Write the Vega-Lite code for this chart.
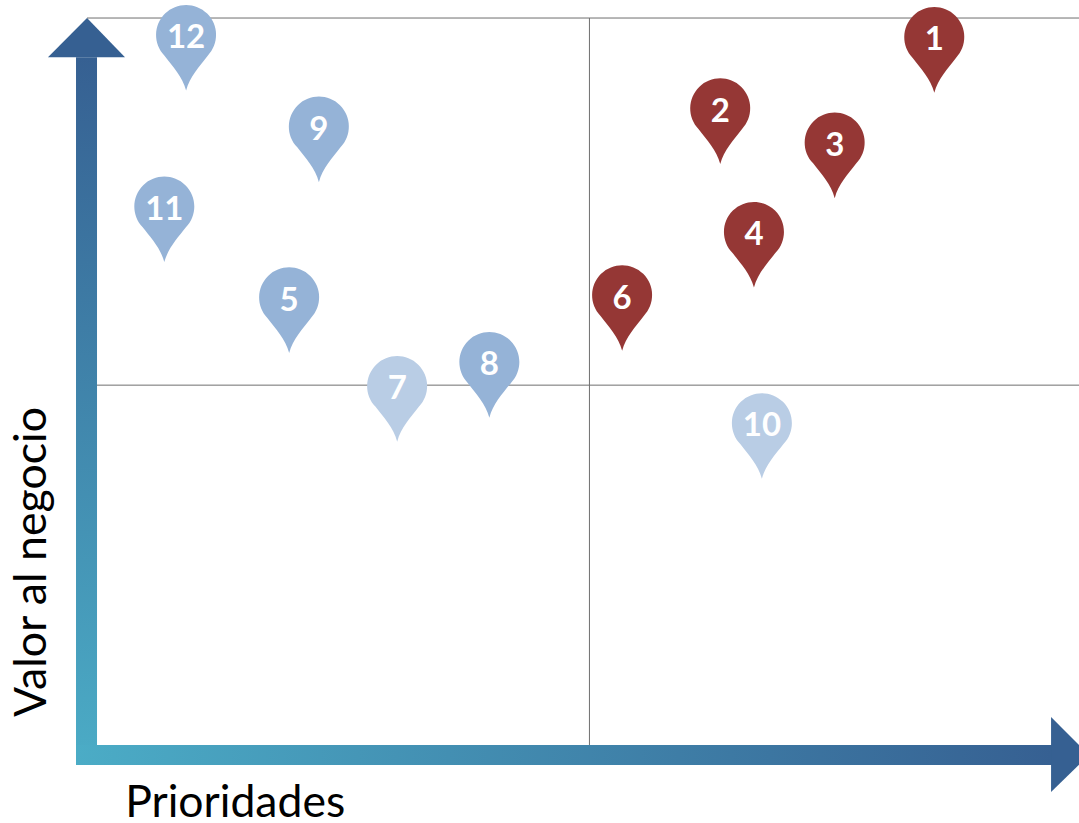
{
"$schema":"https://vega.github.io/schema/vega-lite/v6.json",
"width":1079,"height":823,"padding":0,"autosize":{"type":"none"},
"background":"white",
"view":{"stroke":null},
"datasets":{
"pins":[
{"id":"1","prioridad":85.4,"valor":97.4,"grupo":"A"},
{"id":"2","prioridad":63.8,"valor":87.6,"grupo":"A"},
{"id":"3","prioridad":75.35,"valor":82.9,"grupo":"A"},
{"id":"4","prioridad":67.2,"valor":70.6,"grupo":"A"},
{"id":"5","prioridad":20.3,"valor":61.6,"grupo":"B"},
{"id":"6","prioridad":53.9,"valor":61.9,"grupo":"A"},
{"id":"7","prioridad":31.2,"valor":49.4,"grupo":"C"},
{"id":"8","prioridad":40.5,"valor":52.7,"grupo":"B"},
{"id":"9","prioridad":23.3,"valor":85.1,"grupo":"B"},
{"id":"10","prioridad":68,"valor":44.3,"grupo":"C"},
{"id":"11","prioridad":7.7,"valor":74.1,"grupo":"B"},
{"id":"12","prioridad":9.9,"valor":97.7,"grupo":"B"}
]},
"encoding":{
"x":{"field":"x","type":"quantitative","axis":null,"scale":{"domain":[-8.88,100],"nice":false,"zero":false}},
"y":{"field":"y","type":"quantitative","axis":null,"scale":{"domain":[-10.73,102.48],"nice":false,"zero":false}}
},
"layer":[
{"data":{"values":[{"x":-0.1,"x2":100,"y":100},{"x":0.9,"x2":100,"y":49.5}]},
 "mark":{"type":"rule","color":"#6f6f6f","strokeWidth":1},
 "encoding":{"x2":{"field":"x2"}}},
{"data":{"values":[{"x":50.6,"y":100,"y2":0}]},
 "mark":{"type":"rule","color":"#6f6f6f","strokeWidth":1},
 "encoding":{"y2":{"field":"y2"}}},
{"data":{"values":[{"x":-1.21,"x2":0.91,"y":94.6,"y2":-2.75}]},
 "mark":{"type":"rect","fill":{"gradient":"linear","x1":0,"y1":1,"x2":0,"y2":0,"stops":[{"offset":0,"color":"#4bacc6"},{"offset":1,"color":"#366092"}]}},
 "encoding":{"x2":{"field":"x2"},"y2":{"field":"y2"}}},
{"data":{"values":[{"x":-1.21,"x2":97.28,"y":0,"y2":-2.75}]},
 "mark":{"type":"rect","fill":{"gradient":"linear","x1":0,"y1":0,"x2":1,"y2":0,"stops":[{"offset":0,"color":"#4bacc6"},{"offset":1,"color":"#366092"}]}},
 "encoding":{"x2":{"field":"x2"},"y2":{"field":"y2"}}},
{"data":{"values":[{"x":-4.04,"y":94.6,"y2":94.6},{"x":-0.1,"y":100,"y2":94.6},{"x":3.73,"y":94.6,"y2":94.6}]},
 "mark":{"type":"area","color":"#366092","orient":"vertical"},
 "encoding":{"y2":{"field":"y2"}}},
{"data":{"values":[{"y":3.85,"x":97.18,"x2":97.18},{"y":-1.38,"x":97.18,"x2":101},{"y":-6.46,"x":97.18,"x2":97.18}]},
 "mark":{"type":"area","color":"#366092","orient":"horizontal","clip":true},
 "encoding":{"x2":{"field":"x2"}}},
{"data":{"values":[{"x":3.75,"y":-9.9,"t":"Prioridades"}]},
 "mark":{"type":"text","font":"Lato","fontSize":44.5,"align":"left","baseline":"alphabetic","color":"black"},
 "encoding":{"text":{"field":"t"}}},
{"data":{"values":[{"x":-4.24,"y":3.85,"t":"Valor al negocio"}]},
 "mark":{"type":"text","font":"Lato","fontSize":44.7,"align":"left","baseline":"alphabetic","angle":270,"color":"black"},
 "encoding":{"text":{"field":"t"}}},
{"data":{"name":"pins"},
 "mark":{"type":"point","filled":true,"opacity":1,"size":3600,"strokeWidth":0,"shape":"M0,1.86 C-0.12,1.4 -0.45,1.05 -0.72,0.7 A1,1 0 1 1 0.72,0.7 C0.45,1.05 0.12,1.4 0,1.86 Z"},
 "encoding":{
  "x":{"field":"prioridad","type":"quantitative"},
  "y":{"field":"valor","type":"quantitative"},
  "color":{"field":"grupo","type":"nominal","legend":null,"scale":{"domain":["A","B","C"],"range":["#953735","#95b3d7","#b9cde5"]}}}},
{"data":{"name":"pins"},
 "mark":{"type":"text","font":"Lato","fontWeight":"bold","fontSize":33,"dy":3.5,"color":"white","align":"center","baseline":"middle"},
 "encoding":{
  "x":{"field":"prioridad","type":"quantitative"},
  "y":{"field":"valor","type":"quantitative"},
  "text":{"field":"id"}}}
]
}
